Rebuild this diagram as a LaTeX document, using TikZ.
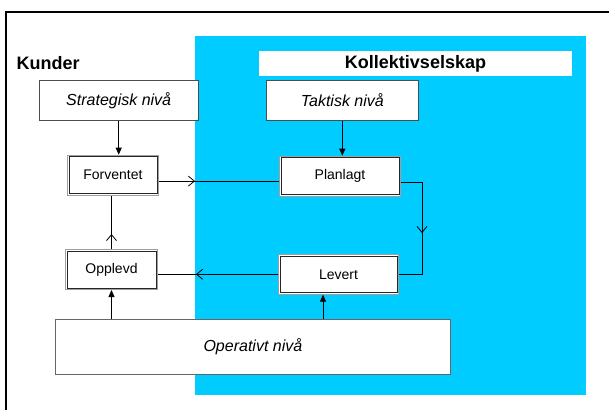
\documentclass[tikz,border=0pt]{standalone}
\usepackage{fontspec}
\setmainfont{Liberation Sans}
\usetikzlibrary{positioning, calc, arrows.meta, decorations.markings}
\definecolor{skyblue}{HTML}{00CCFF}

\begin{document}
\begin{tikzpicture}[x=1pt, y=-1pt,
    level/.style={draw=black!70, line width=0.9pt, fill=white, inner sep=0pt,
        font=\fontsize{16}{19}\selectfont\itshape},
    state/.style={draw=black!85, line width=0.7pt, fill=white, inner sep=0pt, outer sep=2.1pt,
        font=\fontsize{14}{17}\selectfont,
        preaction={draw=gray!75, line width=4.4pt},
        preaction={draw=white, line width=2.2pt}},
    flow/.style={line width=0.8pt, -{Triangle[width=6pt, length=7pt]}},
    midarr/.style={line width=0.8pt, postaction={decorate},
        decoration={markings, mark=at position #1 with {\arrow{Straight Barb[length=6pt, width=10pt]}}}},
    heading/.style={font=\fontsize{18}{21}\selectfont\bfseries}]

\useasboundingbox (0,0) rectangle (609,410);

% Frame and company area
\draw[line width=2.3pt] (6.2,410) -- (6.2,12.2) -- (609,12.2);
\fill[skyblue] (195,36) rectangle (586,394.7);

\node[heading, fill=white, minimum width=313pt, minimum height=24.7pt, inner sep=0pt]
    (ks) at (415.5,63.4) {Kollektivselskap};
\node[heading, anchor=base west, inner sep=0pt] (ku) at (16.5,69.5) {Kunder};

% Levels
\node[level, minimum width=158.5pt, minimum height=39.5pt] (sn) at (118.7,100.6) {Strategisk nivå};
\node[level, minimum width=152.5pt, minimum height=39.5pt] (tn) at (342.3,100.6) {Taktisk nivå};
\node[level, draw=black!60, line width=1.2pt, minimum width=395.5pt, minimum height=55pt]
    (op) at (252.9,346.9) {Operativt nivå};

% Quality states
\node[state, minimum width=88pt, minimum height=36.6pt] (fv) at (112.9,175.1) {Forventet};
\node[state, minimum width=117.8pt, minimum height=36.8pt] (pl) at (340,176.2) {Planlagt};
\node[state, minimum width=88.8pt, minimum height=36.8pt] (ov) at (111.5,269.5) {Opplevd};
\node[state, minimum width=116.8pt, minimum height=36.5pt] (lv) at (338.5,274.3) {Levert};

% Arrows from the levels
\draw[flow] (sn.south) -- (sn.south |- fv.north);
\draw[flow] (tn.south) -- (tn.south |- pl.north);
\draw[flow] (ov.south |- op.north) -- (ov.south);
\coordinate (lvin) at ($(lv.south)+(-15.5,0)$);
\draw[flow] (lvin |- op.north) -- (lvin);

% Quality loop
\coordinate (fp) at ($(fv.east)+(0,6)$);
\draw[midarr=36pt] (fp) -- (fp -| pl.west);
\draw[midarr=72pt] ($(pl.east)+(0,5.8)$) -- ++(21,0) |- (lv.east);
\draw[midarr=82pt] (lv.west) -- (lv.west -| ov.east);
\draw[midarr=15pt] (ov.north) -- (ov.north |- fv.south);

\end{tikzpicture}
\end{document}
